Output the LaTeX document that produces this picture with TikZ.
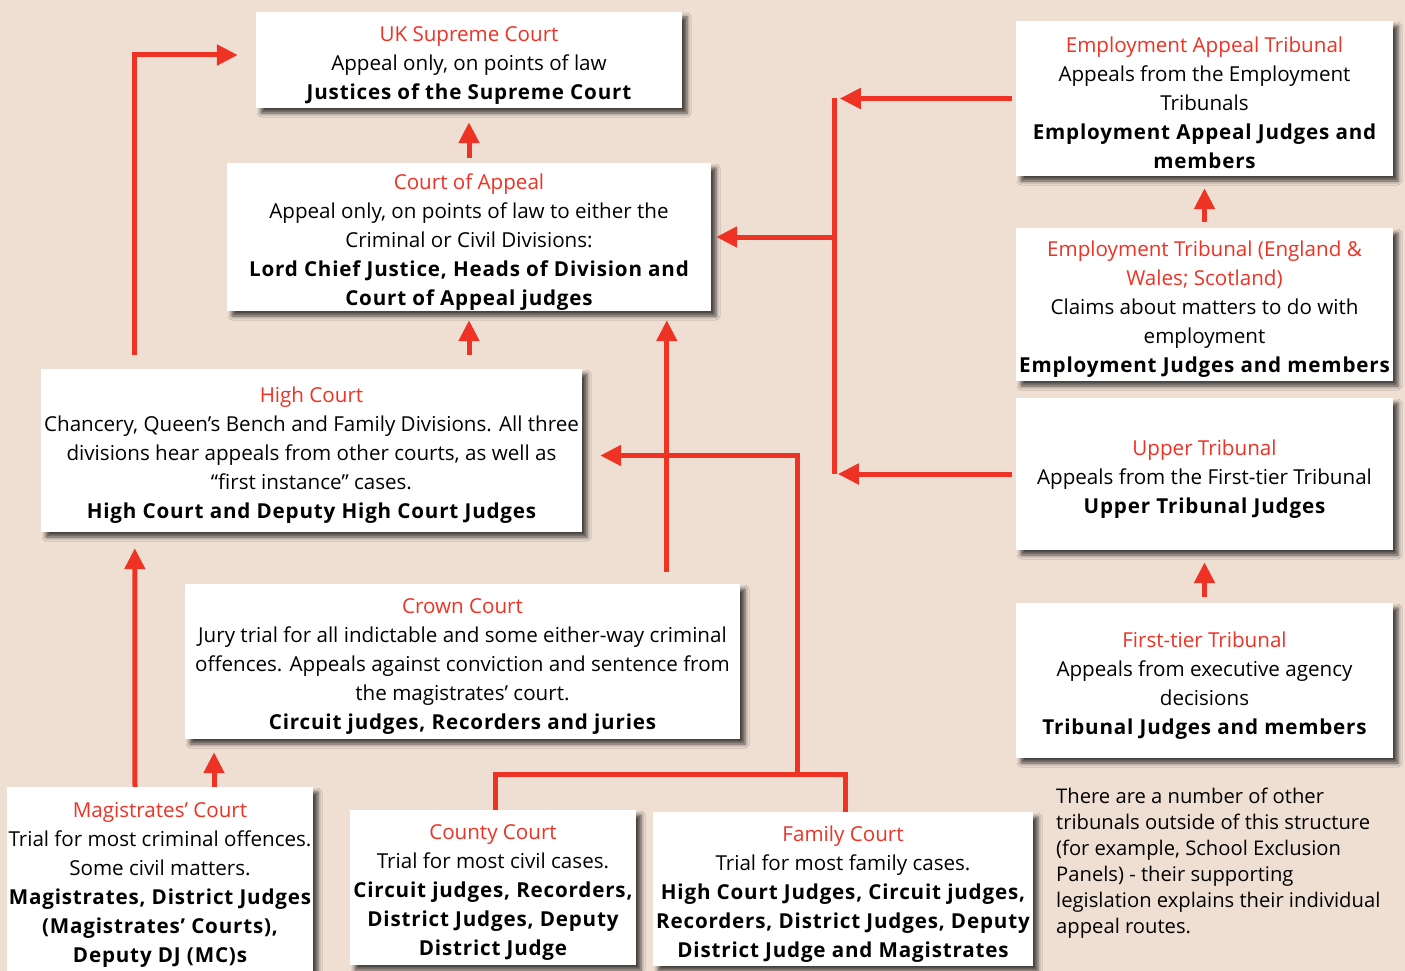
\documentclass[tikz,border=0pt]{standalone}
\usepackage{fontspec}
\setmainfont{Open Sans}
\usetikzlibrary{calc,arrows.meta,shadows.blur}
\definecolor{pagebg}{RGB}{239,223,211}
\definecolor{courtred}{RGB}{238,50,36}
\newcommand{\ctitle}[1]{\textcolor{courtred}{#1}}
\newcommand{\ctop}[1]{\rule{0pt}{25pt}\ctitle{#1}}
\newcommand{\jb}[1]{{\bfseries\addfontfeatures{LetterSpace=4}#1}}

\begin{document}
\begin{tikzpicture}[
        x=1pt, y=-1pt,
        court/.style={fill=white, inner sep=0pt, align=center,
            font=\fontsize{20.6}{29}\selectfont,
            blur shadow={shadow xshift=5pt, shadow yshift=-5pt, shadow blur radius=4pt, shadow opacity=70}},
        size/.style 2 args={minimum width=#1, minimum height=#2},
        note/.style={inner sep=0pt, align=left, font=\fontsize{20.2}{26}\selectfont},
        line/.style={draw=courtred, line width=5pt},
        arrow/.style={line, -{Triangle[length=21pt,width=20pt]}},
    ]

    \useasboundingbox (0,0) rectangle (1405,971);
    \fill[pagebg] (0,0) rectangle (1405,971);

    % Courts
    \node[court, size={426pt}{96pt}] (sup) at (469,60)
        {\ctop{UK Supreme Court}\\Appeal only, on points of law\\\jb{Justices of the Supreme Court}};
    \node[court, size={484pt}{148pt}] (coa) at (469,237)
        {\ctop{Court of Appeal}\\Appeal only, on points of law to either the\\Criminal or Civil Divisions:\\\jb{Lord Chief Justice, Heads of Division and}\\\jb{Court of Appeal judges}};
    \node[court, size={541pt}{163pt}] (high) at (311.5,450.5)
        {\ctop{High Court}\\Chancery, Queen’s Bench and Family Divisions. All three\\divisions hear appeals from other courts, as well as\\“first instance” cases.\\\jb{High Court and Deputy High Court Judges}};
    \node[court, size={555pt}{155pt}] (crown) at (462.5,661.5)
        {\ctop{Crown Court}\\Jury trial for all indictable and some either-way criminal\\offences. Appeals against conviction and sentence from\\the magistrates’ court.\\\jb{Circuit judges, Recorders and juries}};
    \node[court, size={306pt}{185pt}] (mag) at (160,879.5)
        {\ctop{Magistrates’ Court}\\Trial for most criminal offences.\\Some civil matters.\\\jb{Magistrates, District Judges}\\\jb{(Magistrates’ Courts),}\\\jb{Deputy DJ (MC)s}};
    \node[court, size={286pt}{155pt}] (county) at (493,887.5)
        {\ctop{County Court}\\Trial for most civil cases.\\\jb{Circuit judges, Recorders,}\\\jb{District Judges, Deputy}\\\jb{District Judge}};
    \node[court, size={380pt}{154pt}] (family) at (843,889)
        {\ctop{Family Court}\\Trial for most family cases.\\\jb{High Court Judges, Circuit judges,}\\\jb{Recorders, District Judges, Deputy}\\\jb{District Judge and Magistrates}};

    % Tribunals
    \node[court, size={377pt}{155pt}] (eat) at (1204.5,98.5)
        {\ctop{Employment Appeal Tribunal}\\Appeals from the Employment\\Tribunals\\\jb{Employment Appeal Judges and}\\\jb{members}};
    \node[court, size={377pt}{153pt}] (et) at (1204.5,304.5)
        {\ctop{Employment Tribunal (England \&}\\\ctitle{Wales; Scotland)}\\Claims about matters to do with\\employment\\\jb{Employment Judges and members}};
    \node[court, size={377pt}{152pt}] (ut) at (1204.5,474)
        {\ctop{Upper Tribunal}\\Appeals from the First-tier Tribunal\\\jb{Upper Tribunal Judges}};
    \node[court, size={377pt}{155pt}] (ftt) at (1204.5,680.5)
        {\ctop{First-tier Tribunal}\\Appeals from executive agency\\decisions\\\jb{Tribunal Judges and members}};

    \node[note, anchor=north west] (othertrib) at (1056,788)
        {There are a number of other\\tribunals outside of this structure\\(for example, School Exclusion\\Panels) - their supporting\\legislation explains their individual\\appeal routes.};

    % Appeal routes
    \draw[arrow] ($(high.north west)+(94,-14)$) |- ($(sup.west)+(-18,-5)$);
    \draw[arrow] ($(coa.north)+(0,-5)$) -- ($(sup.south)+(0,14)$);
    \draw[arrow] ($(coa.south |- high.north)+(0,-14)$) -- ($(coa.south)+(0,9)$);
    \coordinate (crownout) at ($(crown.north west)+(482,-12)$);
    \draw[arrow] (crownout) -- ($(crownout |- coa.south)+(0,9)$);
    \draw[arrow] ($(mag.north)+(-25,0)$) -- ($(high.south west)+(94,16)$);
    \draw[arrow] ($(mag.north)+(54,0)$) -- ($(mag.north |- crown.south)+(54,13)$);

    \coordinate (lowbar) at ($(county.north)+(2,-35)$);
    \draw[line] (county.north -| lowbar) -- (lowbar) -| ($(family.north)+(2,0)$);
    \draw[arrow] ($(lowbar)+(302,0)$) |- ($(high.east)+(18,5)$);

    \coordinate (bracket) at ($(eat.west)+(-181,0)$);
    \draw[arrow] ($(eat.west)+(-4,0)$) -- ($(eat.west)+(-176,0)$);
    \draw[arrow] ($(ut.west)+(-4,0)$) -- ($(ut.west)+(-178,0)$);
    \draw[line] (bracket) -- (bracket |- ut.west);
    \draw[arrow] (coa.east -| bracket) -- ($(coa.east)+(5,0)$);
    \draw[arrow] ($(et.north)+(0,-6)$) -- ($(eat.south)+(0,12)$);
    \draw[arrow] ($(ftt.north)+(0,-6)$) -- ($(ut.south)+(0,12)$);

\end{tikzpicture}
\end{document}
